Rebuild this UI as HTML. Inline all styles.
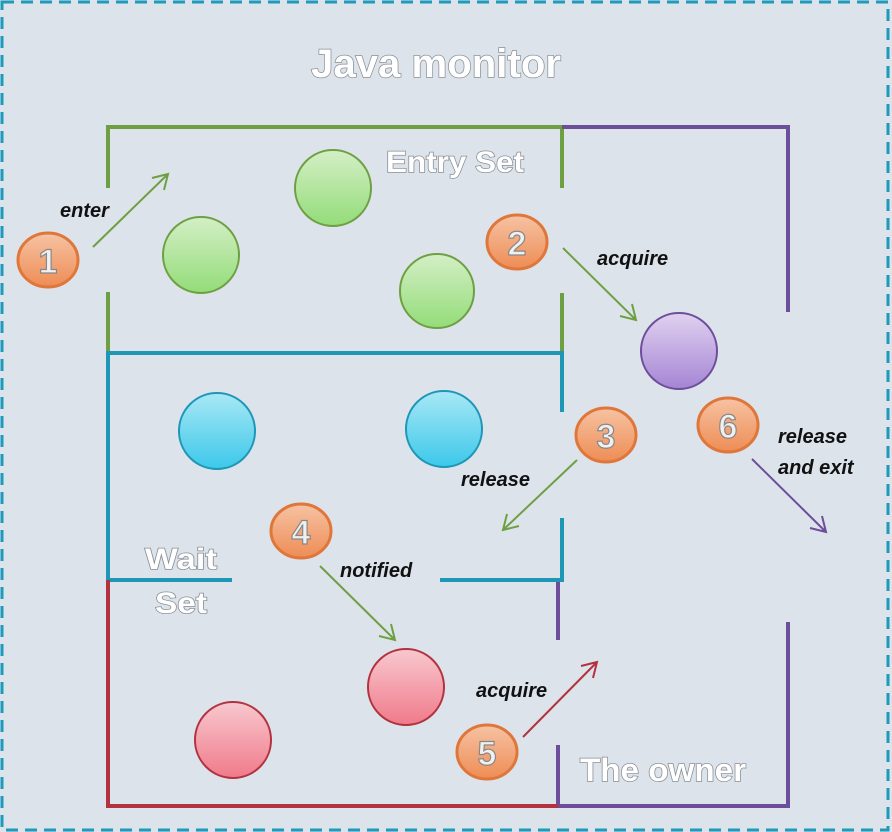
<!DOCTYPE html>
<html><head><meta charset="utf-8"><style>
html,body{margin:0;padding:0;background:#dde3eb;}
svg{display:block}
.t{font-family:"Liberation Sans",sans-serif;font-style:italic;font-weight:bold;font-size:20px;fill:#111}
.h{font-family:"Liberation Sans",sans-serif;font-weight:bold;fill:#fff;stroke:#8a8f96;stroke-width:1.5px;paint-order:stroke}
.n{font-family:"Liberation Sans",sans-serif;font-weight:bold;font-size:34px;fill:#f0f0f0;stroke:#888;stroke-width:1.2;text-anchor:middle}
</style></head><body>
<svg width="892" height="832" viewBox="0 0 892 832">
<defs>
<linearGradient id="g" x1="0" y1="0" x2="0" y2="1"><stop offset="0" stop-color="#d4efc6"/><stop offset="1" stop-color="#93dc78"/></linearGradient>
<linearGradient id="b" x1="0" y1="0" x2="0" y2="1"><stop offset="0" stop-color="#a8e8f5"/><stop offset="1" stop-color="#3cc8ea"/></linearGradient>
<linearGradient id="r" x1="0" y1="0" x2="0" y2="1"><stop offset="0" stop-color="#f8c8cf"/><stop offset="1" stop-color="#f07a8a"/></linearGradient>
<linearGradient id="p" x1="0" y1="0" x2="0" y2="1"><stop offset="0" stop-color="#e0d2f0"/><stop offset="1" stop-color="#a584d4"/></linearGradient>
<linearGradient id="o" x1="0" y1="0" x2="0" y2="1"><stop offset="0" stop-color="#f6c3a3"/><stop offset="1" stop-color="#ee8d55"/></linearGradient>
</defs>
<rect x="2" y="2" width="886" height="828" fill="#dde3eb" stroke="#1f9ab8" stroke-width="3" stroke-dasharray="12 7"/>
<text x="311" y="77" class="h" font-size="40" textLength="250" lengthAdjust="spacingAndGlyphs">Java monitor</text>
<g fill="none" stroke-width="4">
<g stroke="#6ea043"><path d="M108 188V127H562V188M108 292V352M562 293V352"/></g>
<g stroke="#6d4e9a"><path d="M562 127H788V312M788 622V806H558V745M558 582V640"/></g>
<g stroke="#1e97b7"><path d="M108 580V353H562V412M562 518V580H440M108 580H232"/></g>
<g stroke="#b3323f"><path d="M108 580V806H558"/></g>
</g>
<text x="386" y="172" class="h" font-size="30" textLength="138" lengthAdjust="spacingAndGlyphs">Entry Set</text>
<text x="145" y="569" class="h" font-size="30" textLength="72" lengthAdjust="spacingAndGlyphs">Wait</text>
<text x="155" y="613" class="h" font-size="30" textLength="52" lengthAdjust="spacingAndGlyphs">Set</text>
<text x="580" y="781" class="h" font-size="32" textLength="166" lengthAdjust="spacingAndGlyphs">The owner</text>
<g stroke-width="2">
<circle cx="201" cy="255" r="38" fill="url(#g)" stroke="#6ea043"/>
<circle cx="333" cy="188" r="38" fill="url(#g)" stroke="#6ea043"/>
<circle cx="437" cy="291" r="37" fill="url(#g)" stroke="#6ea043"/>
<circle cx="679" cy="351" r="38" fill="url(#p)" stroke="#6d4e9a"/>
<circle cx="217" cy="431" r="38" fill="url(#b)" stroke="#1e97b7"/>
<circle cx="444" cy="429" r="38" fill="url(#b)" stroke="#1e97b7"/>
<circle cx="406" cy="687" r="38" fill="url(#r)" stroke="#b3323f"/>
<circle cx="233" cy="740" r="38" fill="url(#r)" stroke="#b3323f"/>
</g>
<g stroke-width="2" fill="none">
<g stroke="#6ea043"><path d="M93 247L168 174M152 178L168 174L164 190"/>
<path d="M563 248L636 320M620 316L636 320L632 304"/>
<path d="M577 460L503 530M519 526L503 530L507 514"/>
<path d="M320 566L395 640M379 636L395 640L391 624"/></g>
<g stroke="#6d4e9a"><path d="M752 459L826 532M810 528L826 532L822 516"/></g>
<g stroke="#b3323f"><path d="M523 737L597 662M581 666L597 662L593 678"/></g>
</g>
<text x="60" y="217" class="t">enter</text>
<text x="597" y="265" class="t">acquire</text>
<text x="461" y="486" class="t">release</text>
<text x="778" y="443" class="t">release</text>
<text x="778" y="474" class="t">and exit</text>
<text x="340" y="577" class="t">notified</text>
<text x="476" y="697" class="t">acquire</text>
<g stroke="#e0773a" stroke-width="3" fill="url(#o)">
<ellipse cx="48" cy="260" rx="30" ry="27"/>
<ellipse cx="517" cy="242" rx="30" ry="27"/>
<ellipse cx="606" cy="435" rx="30" ry="27"/>
<ellipse cx="728" cy="425" rx="30" ry="27"/>
<ellipse cx="301" cy="531" rx="30" ry="27"/>
<ellipse cx="487" cy="752" rx="30" ry="27"/>
</g>
<text x="48" y="273" class="n">1</text>
<text x="517" y="255" class="n">2</text>
<text x="606" y="448" class="n">3</text>
<text x="728" y="438" class="n">6</text>
<text x="301" y="544" class="n">4</text>
<text x="487" y="765" class="n">5</text>
</svg>
</body></html>
